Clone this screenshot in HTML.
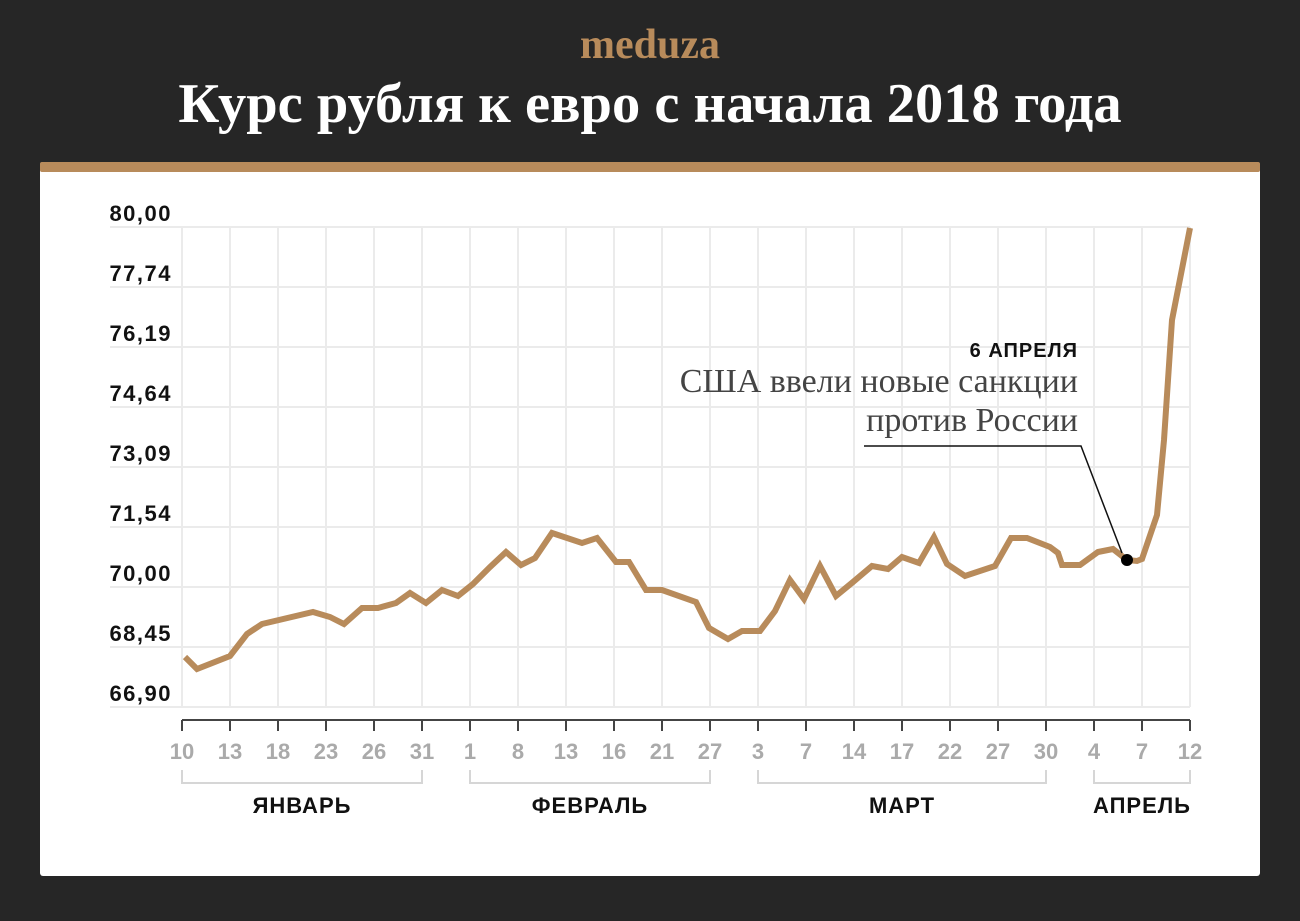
<!DOCTYPE html>
<html><head><meta charset="utf-8"><style>
body{margin:0;width:1300px;height:916px;background:#262626;overflow:hidden;font-family:"Liberation Sans",sans-serif}
</style></head><body>
<svg width="1300" height="916" xmlns="http://www.w3.org/2000/svg">
<rect width="1300" height="916" fill="#262626"/>
<text x="650" y="58" text-anchor="middle" font-family="Liberation Serif,serif" font-weight="bold" font-size="42" fill="#b88b5b">meduza</text>
<text x="650" y="122" text-anchor="middle" font-family="Liberation Serif,serif" font-weight="bold" font-size="56.5" fill="#fff">Курс рубля к евро с начала 2018 года</text>
<rect x="40" y="162" width="1220" height="714" rx="3" fill="#fff"/>
<rect x="40" y="162" width="1220" height="10" rx="2" fill="#b88b5b"/>
<g stroke="#ebebeb" stroke-width="2">
<line x1="110" y1="227" x2="1190" y2="227"/><line x1="110" y1="287" x2="1190" y2="287"/><line x1="110" y1="347" x2="1190" y2="347"/><line x1="110" y1="407" x2="1190" y2="407"/><line x1="110" y1="467" x2="1190" y2="467"/><line x1="110" y1="527" x2="1190" y2="527"/><line x1="110" y1="587" x2="1190" y2="587"/><line x1="110" y1="647" x2="1190" y2="647"/><line x1="110" y1="707" x2="1190" y2="707"/>
</g>
<g stroke="#ebebeb" stroke-width="2" id="v"></g>
<g font-weight="bold" font-size="22" fill="#111" text-anchor="end" letter-spacing="1.5">
<text x="172" y="221">80,00</text><text x="172" y="281">77,74</text><text x="172" y="341">76,19</text><text x="172" y="401">74,64</text><text x="172" y="461">73,09</text><text x="172" y="521">71,54</text><text x="172" y="581">70,00</text><text x="172" y="641">68,45</text><text x="172" y="701">66,90</text>
</g>
<line x1="182" y1="720" x2="1190" y2="720" stroke="#444" stroke-width="2"/>
<g id="t" font-weight="bold" font-size="22" fill="#aaa" text-anchor="middle"></g>
<g stroke="#d6d6d6" stroke-width="2" fill="none">
<polyline points="182,770 182,783 422,783 422,770"/><polyline points="470,770 470,783 710,783 710,770"/><polyline points="758,770 758,783 1046,783 1046,770"/><polyline points="1094,770 1094,783 1190,783 1190,770"/>
</g>
<g font-weight="bold" font-size="22" fill="#111" text-anchor="middle" letter-spacing="1">
<text x="302" y="813">ЯНВАРЬ</text><text x="590" y="813">ФЕВРАЛЬ</text><text x="902" y="813">МАРТ</text><text x="1142" y="813">АПРЕЛЬ</text>
</g>
<polyline fill="none" stroke="#b88b5b" stroke-width="6" stroke-linejoin="miter" points="185,657 197,669 230,656 247,634 262,624 313,612 330,617 344,624 362,608 378,608 396,603 410,593 426,603 442,590 458,596 473,584 490,567 506,552 521,565 535,558 552,533 582,543 597,538 616,562 629,562 646,590 662,590 696,602 709,628 728,639 742,631 760,631 775,611 790,580 804,599 820,566 836,596 853,582 872,566 888,569 902,557 919,563 934,537 947,564 965,576 995,566 1011,538 1027,538 1050,547 1058,553 1062,565 1080,565 1098,552 1113,549 1127,560 1137,561 1142,559 1157,515 1164,440 1172,320 1190,228"/>
<polyline fill="none" stroke="#111" stroke-width="1.5" points="864,446 1081,446 1122,553"/>
<circle cx="1127" cy="560" r="6" fill="#000"/>
<text x="1078" y="357" text-anchor="end" font-weight="bold" font-size="20" fill="#111" letter-spacing="1">6 АПРЕЛЯ</text>
<text x="1078" y="392" text-anchor="end" font-family="Liberation Serif,serif" font-size="34" fill="#444">США ввели новые санкции</text>
<text x="1078" y="431" text-anchor="end" font-family="Liberation Serif,serif" font-size="34" fill="#444">против России</text>
</svg>
<script>
var xs=[182,230,278,326,374,422,470,518,566,614,662,710,758,806,854,902,950,998,1046,1094,1142,1190];
var lb=["10","13","18","23","26","31","1","8","13","16","21","27","3","7","14","17","22","27","30","4","7","12"];
var ns="http://www.w3.org/2000/svg",v=document.getElementById("v"),t=document.getElementById("t");
xs.forEach(function(x,i){var l=document.createElementNS(ns,"line");l.setAttribute("x1",x);l.setAttribute("x2",x);l.setAttribute("y1",227);l.setAttribute("y2",707);v.appendChild(l);
var k=document.createElementNS(ns,"line");k.setAttribute("x1",x);k.setAttribute("x2",x);k.setAttribute("y1",720);k.setAttribute("y2",731);k.setAttribute("stroke","#444");k.setAttribute("stroke-width","2");t.parentNode.insertBefore(k,t);
var s=document.createElementNS(ns,"text");s.setAttribute("x",x);s.setAttribute("y",759);s.textContent=lb[i];t.appendChild(s);});
</script>
</body></html>
